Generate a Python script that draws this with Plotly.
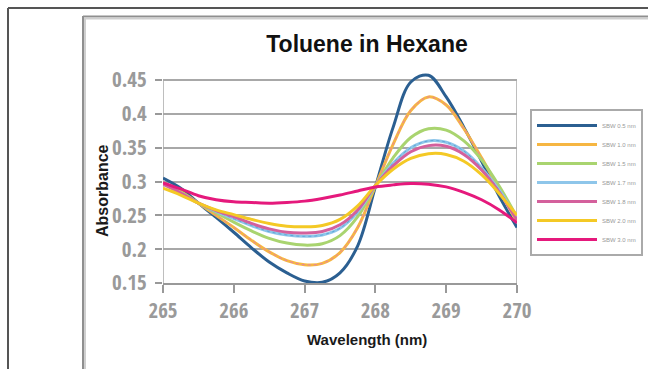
import plotly.graph_objects as go

wavelength = [265.00, 265.25, 265.50, 265.75, 266.00, 266.25, 266.50, 266.75, 267.00, 267.25,
              267.50, 267.75, 268.00, 268.25, 268.50, 268.75, 269.00, 269.25, 269.50, 269.75, 270.00]

sbw_05 = [0.305, 0.290, 0.268, 0.247, 0.225, 0.202, 0.181, 0.165, 0.153, 0.151,
          0.165, 0.205, 0.292, 0.380, 0.447, 0.457, 0.425, 0.380, 0.330, 0.278, 0.232]
sbw_10 = [0.298, 0.285, 0.268, 0.250, 0.232, 0.213, 0.196, 0.183, 0.177, 0.179,
          0.195, 0.232, 0.293, 0.355, 0.405, 0.425, 0.413, 0.378, 0.335, 0.288, 0.240]
sbw_15 = [0.297, 0.284, 0.268, 0.254, 0.240, 0.227, 0.216, 0.209, 0.206, 0.208,
          0.220, 0.248, 0.293, 0.335, 0.365, 0.378, 0.376, 0.360, 0.332, 0.293, 0.247]
sbw_17 = [0.296, 0.283, 0.268, 0.256, 0.245, 0.235, 0.226, 0.221, 0.219, 0.221,
          0.231, 0.255, 0.294, 0.327, 0.350, 0.360, 0.358, 0.345, 0.320, 0.287, 0.245]
sbw_18 = [0.296, 0.283, 0.268, 0.257, 0.248, 0.238, 0.230, 0.225, 0.224, 0.226,
          0.236, 0.258, 0.294, 0.323, 0.344, 0.353, 0.352, 0.340, 0.317, 0.284, 0.243]
sbw_20 = [0.290, 0.280, 0.268, 0.258, 0.251, 0.244, 0.238, 0.234, 0.233, 0.235,
          0.244, 0.264, 0.294, 0.318, 0.334, 0.341, 0.340, 0.330, 0.310, 0.282, 0.250]
sbw_30 = [0.298, 0.289, 0.279, 0.273, 0.270, 0.269, 0.268, 0.269, 0.271, 0.275,
          0.280, 0.286, 0.292, 0.295, 0.297, 0.296, 0.292, 0.284, 0.273, 0.258, 0.239]

series_names = ["SBW 0.5 nm", "SBW 1.0 nm", "SBW 1.5 nm", "SBW 1.7 nm",
                "SBW 1.8 nm", "SBW 2.0 nm", "SBW 3.0 nm"]
series_values = [sbw_05, sbw_10, sbw_15, sbw_17, sbw_18, sbw_20, sbw_30]
series_colors = ["#2b5f91", "#f6b642", "#a9d46f", "#8ec6ea", "#d4609c", "#f4c925", "#e5197c"]

y_ticks = [0.15, 0.2, 0.25, 0.3, 0.35, 0.4, 0.45]
y_tick_text = ["0.15", "0.2", "0.25", "0.3", "0.35", "0.4", "0.45"]
x_ticks = [265, 266, 267, 268, 269, 270]

fig = go.Figure()
for name, vals, col in zip(series_names, series_values, series_colors):
    fig.add_trace(go.Scatter(x=wavelength, y=vals, mode="lines", name=name,
                             line=dict(color=col, width=3, shape="spline", smoothing=1.0),
                             hoverinfo="skip"))
    if name == "SBW 1.0 nm":
        fig.add_trace(go.Scatter(x=wavelength, y=vals, mode="lines", showlegend=False,
                                 line=dict(color="#e77fa8", width=1, dash="dot", shape="spline", smoothing=1.0),
                                 hoverinfo="skip"))
    if name == "SBW 1.7 nm":
        fig.add_trace(go.Scatter(x=wavelength, y=vals, mode="lines", showlegend=False,
                                 line=dict(color="#5fa6d8", width=1, dash="dot", shape="spline", smoothing=1.0),
                                 hoverinfo="skip"))

# plot area in page pixels
L, R, T, B = 163, 517, 66, 283
Y_MIN, Y_MAX = 0.15, 0.45 + 14 * 0.30 / 203
def px(x):
    return (x - L) / (R - L)
def py(y):
    return (B - y) / (B - T)

shapes = [
    dict(type="line", xref="paper", yref="paper", x0=px(8), x1=px(660), y0=py(8), y1=py(8),
         line=dict(color="#555555", width=2)),
    dict(type="line", xref="paper", yref="paper", x0=px(8), x1=px(8), y0=py(8), y1=py(380),
         line=dict(color="#555555", width=2)),
    dict(type="line", xref="paper", yref="paper", x0=px(83), x1=px(660), y0=py(16.5), y1=py(16.5),
         line=dict(color="#8f8f8f", width=2)),
    dict(type="line", xref="paper", yref="paper", x0=px(84), x1=px(660), y0=py(18.5), y1=py(18.5),
         line=dict(color="#cfcfcf", width=2)),
    dict(type="line", xref="paper", yref="paper", x0=px(83), x1=px(83), y0=py(16), y1=py(380),
         line=dict(color="#8f8f8f", width=2)),
    dict(type="line", xref="paper", yref="paper", x0=px(85), x1=px(85), y0=py(18), y1=py(380),
         line=dict(color="#cfcfcf", width=2)),
    dict(type="line", xref="x", yref="y", x0=265, x1=265, y0=0.15, y1=0.45,
         line=dict(color="#a8a8a8", width=1.5), layer="below"),
    dict(type="line", xref="x", yref="y", x0=270, x1=270, y0=0.15, y1=0.45,
         line=dict(color="#a8a8a8", width=1.5), layer="below"),
]

tick_font = dict(family="Open Sans Condensed, Liberation Sans Narrow, Liberation Sans, sans-serif",
                 size=21, color="#9a9a9a", weight="bold")

annotations = [
    dict(text="<b>Wavelength (nm)</b>", xref="paper", yref="paper", x=px(367), y=py(339),
         xanchor="center", yanchor="middle", showarrow=False,
         font=dict(family="Liberation Sans, Arial, sans-serif", size=15, color="#1a1a1a")),
    dict(text="<b>Absorbance</b>", xref="paper", yref="paper", x=px(102), y=py(191),
         xanchor="center", yanchor="middle", showarrow=False, textangle=-90,
         font=dict(family="Liberation Sans, Arial, sans-serif", size=16, color="#1a1a1a")),
]

fig.update_layout(
    width=648, height=369,
    margin=dict(l=L, r=648 - R, t=T, b=369 - B, autoexpand=False),
    paper_bgcolor="white", plot_bgcolor="white",
    showlegend=True,
    title=dict(text="<b>Toluene in Hexane</b>", x=367 / 648, xanchor="center",
               y=1 - 44 / 369, yanchor="middle",
               font=dict(family="Liberation Sans, Arial, sans-serif", size=23, color="#111111")),
    xaxis=dict(range=[265, 270], tickvals=x_ticks, ticks="outside", ticklen=8, tickwidth=1.5,
               tickcolor="#999999", showline=True, linecolor="#999999", linewidth=1.5,
               showgrid=False, zeroline=False, tickfont=tick_font),
    yaxis=dict(range=[Y_MIN, Y_MAX], tickvals=y_ticks, ticktext=y_tick_text, ticks="outside",
               ticklen=7, tickwidth=1.5, tickcolor="#999999", showline=False,
               showgrid=True, gridcolor="#a8a8a8", gridwidth=1.5, ticklabelstandoff=4,
               zeroline=False, tickfont=tick_font),
    legend=dict(x=px(530), y=py(109), xanchor="left", yanchor="top",
                bgcolor="white", bordercolor="#aaaaaa", borderwidth=2,
                font=dict(family="Liberation Sans, Arial, sans-serif", size=6, color="#999999"),
                itemwidth=60, tracegroupgap=0),
    shapes=shapes,
    annotations=annotations,
)

fig.write_html("out.html", config={"displayModeBar": False},
               post_script="document.body.style.margin='0';")
